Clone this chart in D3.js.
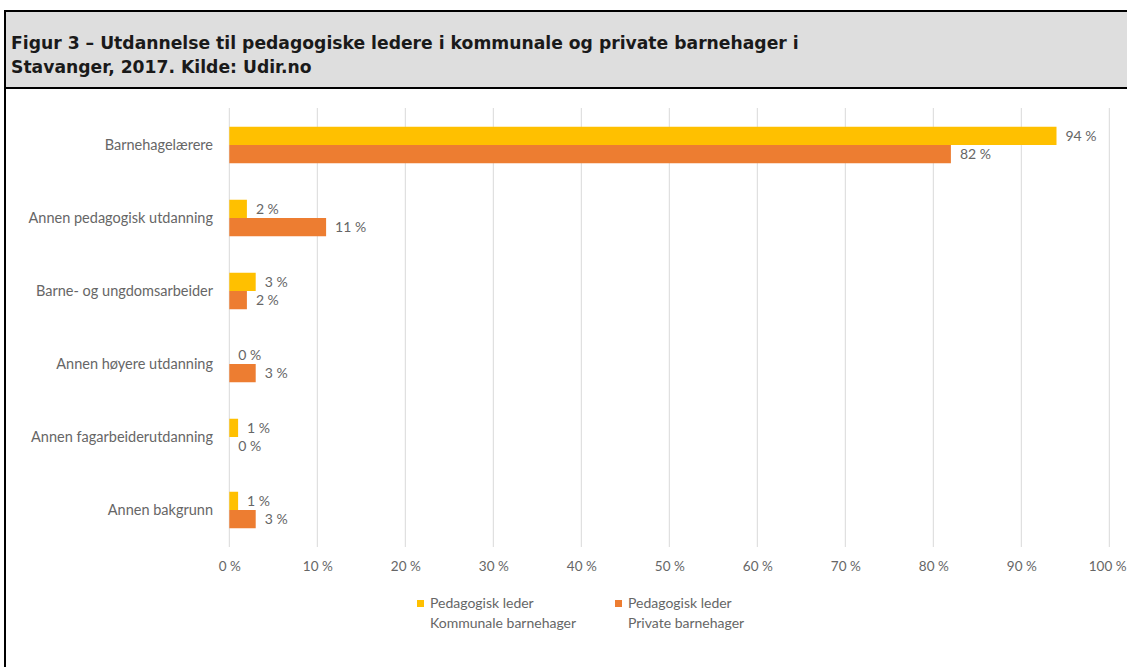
<!DOCTYPE html>
<html>
<head>
<meta charset="utf-8">
<script src="https://cdn.jsdelivr.net/npm/d3@7"></script>
<style>
  html, body { margin: 0; padding: 0; background: #fff; }
  svg { display: block; }
</style>
</head>
<body>
<svg id="chart" width="1127" height="667"></svg>
<script>
// Education of pedagogical leaders, Stavanger 2017 (percent)
const categories = [
  "Barnehagelærere",
  "Annen pedagogisk utdanning",
  "Barne- og ungdomsarbeider",
  "Annen høyere utdanning",
  "Annen fagarbeiderutdanning",
  "Annen bakgrunn"
];
const kommunale = [94, 2, 3, 0, 1, 1];
const privat = [82, 11, 2, 3, 0, 3];
const seriesNames = [
  ["Pedagogisk leder", "Kommunale barnehager"],
  ["Pedagogisk leder", "Private barnehager"]
];
const tickValues = [0, 10, 20, 30, 40, 50, 60, 70, 80, 90, 100];
const titleLines = [
  "Figur 3 \u2013 Utdannelse til pedagogiske ledere i kommunale og private barnehager i",
  "Stavanger, 2017. Kilde: Udir.no"
];

const colors = ["#FFC000", "#ED7D31"];
const textGrey = "#666666";
const font = "Lato, 'Open Sans', sans-serif";

const svg = d3.select("#chart");
const W = 1127, H = 667;

svg.append("rect").attr("width", W).attr("height", H).attr("fill", "#fff");

// Figure header box
svg.append("rect").attr("x", 5).attr("y", 11).attr("width", W).attr("height", 77).attr("fill", "#dedede");
svg.append("line").attr("x1", 4).attr("x2", W + 5).attr("y1", 11).attr("y2", 11)
  .attr("stroke", "#000").attr("stroke-width", 2);
svg.append("line").attr("x1", 4).attr("x2", W + 5).attr("y1", 88).attr("y2", 88)
  .attr("stroke", "#000").attr("stroke-width", 2);
svg.append("line").attr("x1", 5).attr("x2", 5).attr("y1", 10).attr("y2", H + 5)
  .attr("stroke", "#000").attr("stroke-width", 2);

svg.append("g").selectAll("text").data(titleLines).join("text")
  .attr("x", 11)
  .attr("y", (d, i) => 49 + i * 24)
  .attr("font-family", "'DejaVu Sans', Verdana, sans-serif")
  .attr("font-weight", "bold")
  .attr("font-size", 17.2)
  .attr("fill", "#1a1a1a")
  .text(d => d);

// Scales
const x = d3.scaleLinear().domain([0, 100]).range([229.3, 1109.3]);
const y = d3.scaleBand().domain(categories).range([108.5, 546.5])
  .paddingInner(0.5).paddingOuter(0.25);
const sub = d3.scaleBand().domain([0, 1]).range([0, y.bandwidth()]);

// Vertical gridlines
svg.append("g").selectAll("line").data(tickValues).join("line")
  .attr("x1", d => x(d)).attr("x2", d => x(d))
  .attr("y1", 108).attr("y2", 547)
  .attr("stroke", "#d9d9d9").attr("stroke-width", 1);

// Bottom axis labels
const xAxis = d3.axisBottom(x).tickValues(tickValues)
  .tickFormat(d => d + " %").tickSize(0).tickPadding(0);
const gx = svg.append("g").attr("transform", "translate(0,561)").call(xAxis);
gx.select(".domain").remove();
gx.selectAll("text")
  .attr("font-family", font).attr("font-size", 13.5).attr("fill", textGrey)
  .attr("dy", "0.71em");
// keep the last label inside the frame
gx.selectAll(".tick").filter(d => d === 100).select("text")
  .attr("text-anchor", "end").attr("x", 1126 - x(100));

// Category labels
const yAxis = d3.axisLeft(y).tickSize(0).tickPadding(0);
const gy = svg.append("g").attr("transform", "translate(213,0)").call(yAxis);
gy.select(".domain").remove();
gy.selectAll("text")
  .attr("font-family", font).attr("font-size", 14.5).attr("fill", textGrey);

// Bars + value labels
const rows = categories.map((c, i) => ({ cat: c, vals: [kommunale[i], privat[i]] }));
const groups = svg.append("g").selectAll("g").data(rows).join("g")
  .attr("transform", d => `translate(0,${y(d.cat)})`);

groups.selectAll("rect").data(d => d.vals.map((v, k) => ({ v, k }))).join("rect")
  .attr("x", x(0))
  .attr("y", d => sub(d.k))
  .attr("width", d => x(d.v) - x(0))
  .attr("height", sub.bandwidth())
  .attr("fill", d => colors[d.k]);

groups.selectAll("text").data(d => d.vals.map((v, k) => ({ v, k }))).join("text")
  .attr("x", d => x(d.v) + 9)
  .attr("y", d => sub(d.k) + sub.bandwidth() / 2)
  .attr("dy", "0.35em")
  .attr("font-family", font).attr("font-size", 14).attr("fill", textGrey)
  .text(d => d.v + " %");

// Legend
const legend = svg.append("g").selectAll("g").data(seriesNames).join("g")
  .attr("transform", (d, i) => `translate(${[417, 615][i]},597)`);
legend.append("rect").attr("x", 0).attr("y", 3).attr("width", 7).attr("height", 7)
  .attr("fill", (d, i) => colors[i]);
legend.append("text")
  .attr("font-family", font).attr("font-size", 14).attr("fill", textGrey)
  .selectAll("tspan").data(d => d).join("tspan")
  .attr("x", 13).attr("y", (d, j) => 11 + j * 20)
  .text(d => d);
</script>
</body>
</html>
